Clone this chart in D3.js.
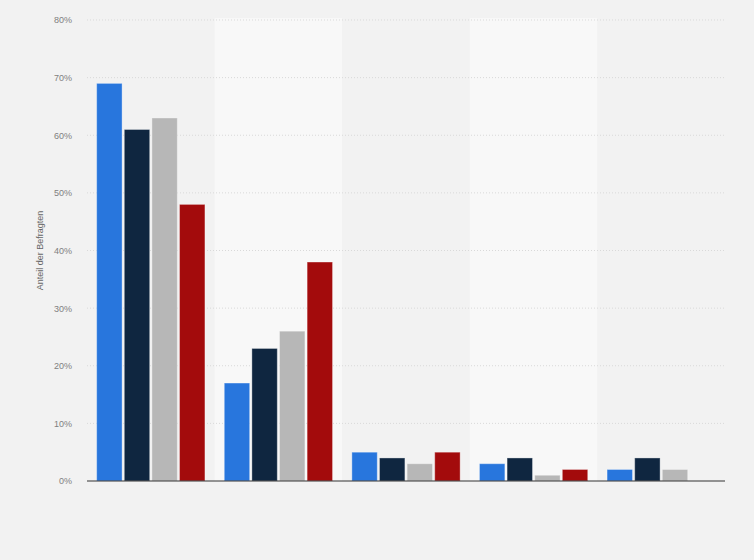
<!DOCTYPE html>
<html lang="de">
<head>
    <meta charset="UTF-8">
    <title>Anteil der Befragten</title>
    <script src="https://cdnjs.cloudflare.com/ajax/libs/d3/7.8.5/d3.min.js"></script>
    <style>
        html, body { margin: 0; padding: 0; background: #f2f2f2; }
        svg { display: block; font-family: "Liberation Sans", Arial, sans-serif; }
        .grid line { stroke: #d9d9d9; stroke-dasharray: 1,2; }
        .tick-label { font-size: 9px; fill: #808080; }
        .y-title { font-size: 9px; fill: #666; }
    </style>
</head>
<body>
<div id="chart"></div>
<script>
    // categories (no labels shown in the picture)
    const categories = ["g1", "g2", "g3", "g4", "g5"];
    const seriesNames = ["s1", "s2", "s3", "s4"];
    const colors = ["#2876dd", "#0f2640", "#b7b7b7", "#a30b0c"];

    // values in percent, one array per series
    const s1 = [69, 17, 5, 3, 2];
    const s2 = [61, 23, 4, 4, 4];
    const s3 = [63, 26, 3, 1, 2];
    const s4 = [48, 38, 5, 2, 0];
    const yTicks = [0, 10, 20, 30, 40, 50, 60, 70, 80];

    const series = [s1, s2, s3, s4];
    const width = 754, height = 560;
    const margin = {top: 20, right: 29, bottom: 79, left: 87};

    const svg = d3.select("#chart").append("svg")
        .attr("width", width)
        .attr("height", height);

    const x = d3.scaleBand()
        .domain(categories)
        .range([margin.left, width - margin.right]);

    const xInner = d3.scaleBand()
        .domain(seriesNames)
        .range([0, x.bandwidth()])
        .paddingInner(0.08)
        .paddingOuter(0.35);

    const y = d3.scaleLinear()
        .domain([0, 80])
        .range([height - margin.bottom, margin.top]);

    // alternating column bands
    svg.append("g")
        .selectAll("rect")
        .data(categories)
        .enter()
        .append("rect")
        .attr("x", d => x(d))
        .attr("y", y(80) - 2)
        .attr("width", x.bandwidth())
        .attr("height", y(0) - y(80) + 2)
        .attr("fill", (d, i) => i % 2 ? "#f8f8f8" : "#f2f2f2");

    // grid lines
    svg.append("g")
        .attr("class", "grid")
        .selectAll("line")
        .data(yTicks.filter(t => t > 0))
        .enter()
        .append("line")
        .attr("x1", margin.left)
        .attr("x2", width - margin.right)
        .attr("y1", d => y(d))
        .attr("y2", d => y(d));

    // y axis labels
    const yAxis = d3.axisLeft(y)
        .tickValues(yTicks)
        .tickFormat(d => d + "%")
        .tickSize(0)
        .tickPadding(15);

    const ya = svg.append("g")
        .attr("transform", `translate(${margin.left},0)`)
        .call(yAxis);
    ya.select(".domain").remove();
    ya.selectAll("text").attr("class", "tick-label");

    svg.append("text")
        .attr("class", "y-title")
        .attr("transform", `translate(43,${(y(0) + y(80)) / 2}) rotate(-90)`)
        .attr("text-anchor", "middle")
        .text("Anteil der Befragten");

    // bars
    const groups = svg.append("g")
        .selectAll("g")
        .data(categories)
        .enter()
        .append("g")
        .attr("transform", d => `translate(${x(d)},0)`);

    groups.selectAll("rect")
        .data((d, i) => series.map((s, j) => ({key: seriesNames[j], value: s[i], color: colors[j]})))
        .enter()
        .filter(d => d.value > 0)
        .append("rect")
        .attr("x", d => xInner(d.key))
        .attr("y", d => y(d.value))
        .attr("width", xInner.bandwidth())
        .attr("height", d => y(0) - y(d.value))
        .attr("fill", d => d.color)
        .attr("stroke", "rgba(255,255,255,0.35)")
        .attr("stroke-width", 1);

    // base line
    svg.append("line")
        .attr("x1", margin.left)
        .attr("x2", width - margin.right)
        .attr("y1", y(0))
        .attr("y2", y(0))
        .attr("stroke", "#333")
        .attr("stroke-width", 1.2);
</script>
</body>
</html>
